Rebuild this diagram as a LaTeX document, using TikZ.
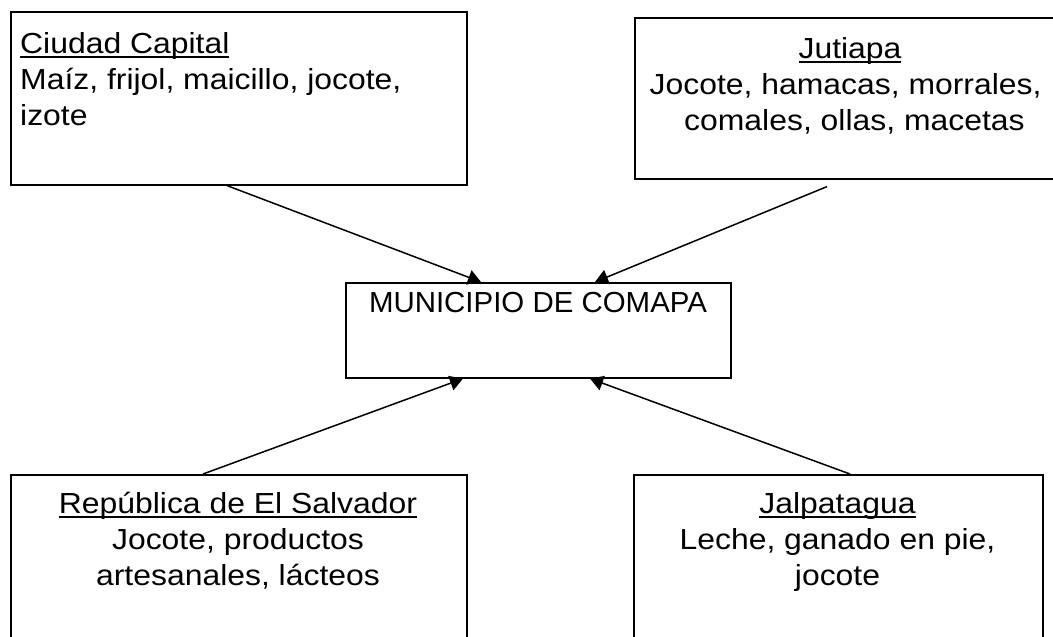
\documentclass[tikz,border=0pt]{standalone}
\usepackage{fontspec}
\setmainfont{Liberation Sans}
\newfontfamily\widefont{Liberation Sans}[FakeStretch=1.1]
\newfontfamily\capsfont{Liberation Sans}[FakeStretch=1.015]
\usetikzlibrary{arrows.meta}
\newcommand{\ulx}[1]{\setbox0\hbox{#1}\rlap{\raisebox{-5pt}{\rule{\wd0}{2.2pt}}}\box0}
\begin{document}
\begin{tikzpicture}[x=1pt,y=-1pt,
  box/.style={draw=black,line width=1.6pt,anchor=north west,inner sep=0pt},
  txt/.style={inner sep=0pt,font=\widefont\fontsize{29}{36}\selectfont},
  conn/.style={line width=1.5pt,-{Triangle[length=13pt,width=15pt]}}]
\useasboundingbox[fill=white] (0,0) rectangle (1053,637);
\clip (0,0) rectangle (1053,637);
% boxes
\node[box,minimum width=456pt,minimum height=173pt] (cc) at (10,11) {};
\node[box,minimum width=432pt,minimum height=161pt] (jut) at (634,17) {};
\node[box,minimum width=385pt,minimum height=95pt] (mun) at (345,282) {};
\node[box,minimum width=456pt,minimum height=200pt] (rep) at (10,474) {};
\node[box,minimum width=409pt,minimum height=200pt] (jal) at (633,474) {};
% texts
\node[txt,anchor=north west,align=left] (cct) at (20,27.8)
  {\strut\ulx{Ciudad Capital}\\Maíz, frijol, maicillo, jocote,\\izote};
\node[txt,anchor=north,align=center] (jutt) at (850,32.8)
  {\strut\ulx{Jutiapa}\\Jocote, hamacas, morrales,\ \mbox{}\\\mbox{}\ comales, ollas, macetas};
\node[txt,anchor=north,align=center,font=\capsfont\fontsize{29}{36}\selectfont] (munt) at (538,286.8)
  {\strut MUNICIPIO DE COMAPA};
\node[txt,anchor=north,align=center] (rept) at (238,487.8)
  {\strut\ulx{República de El Salvador}\\Jocote, productos\\artesanales, lácteos};
\node[txt,anchor=north,align=center] (jalt) at (837.5,487.8)
  {\strut\ulx{Jalpatagua}\\Leche, ganado en pie,\\jocote};
% connectors
\draw[conn] ([xshift=217pt]cc.south west) -- ([xshift=136pt]mun.north west);
\draw[conn] ([xshift=193pt,yshift=-7pt]jut.south west) -- ([xshift=250pt]mun.north west);
\draw[conn] ([xshift=193pt]rep.north west) -- ([xshift=118pt]mun.south west);
\draw[conn] ([xshift=217pt]jal.north west) -- ([xshift=245pt]mun.south west);
\end{tikzpicture}
\end{document}
